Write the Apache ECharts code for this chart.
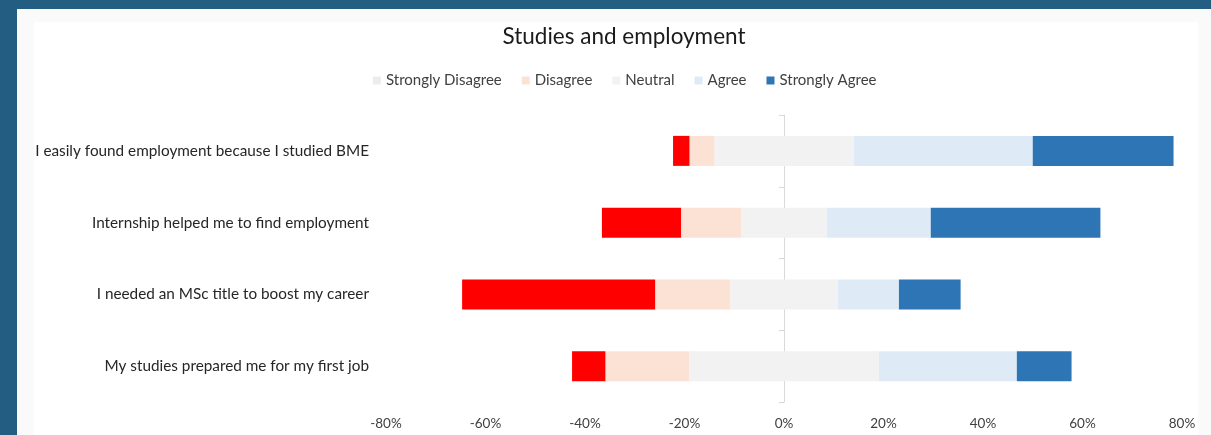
<!DOCTYPE html>
<html>
<head>
<meta charset="utf-8">
<script src="https://cdn.jsdelivr.net/npm/echarts@6/dist/echarts.min.js"></script>
<style>
html,body{margin:0;padding:0;width:1211px;height:435px;overflow:hidden;background:#245d82;}
#p1{position:absolute;left:17px;top:9px;width:1194px;height:426px;background:#fafafa;}
#p2{position:absolute;left:34px;top:22px;width:1164px;height:413px;background:#ffffff;}
#chart{position:absolute;left:0;top:0;width:1211px;height:435px;}
</style>
</head>
<body>
<div id="p1"></div><div id="p2"></div>
<div id="chart"></div>
<script>
const categories = [
  "I easily found employment because I studied BME",
  "Internship helped me to find employment",
  "I needed an MSc title to boost my career",
  "My studies prepared me for my first job"
];
const stronglyDisagree = [3.3, 15.9, 38.8, 6.7];
const disagree = [5.0, 12.1, 15.1, 16.8];
const neutral = [28.0, 17.2, 21.6, 38.2];
const agree = [36.0, 20.9, 12.3, 27.7];
const stronglyAgree = [28.3, 34.1, 12.4, 11.0];
const xTicks = [-80, -60, -40, -20, 0, 20, 40, 60, 80];

const colors = {sd:'#ff0000', d:'#fbe2d5', n:'#f2f2f2', a:'#deebf7', sa:'#2e75b6'};
const font = 'Lato, "Open Sans", sans-serif';

function bar(name, data, color, extra) {
  return Object.assign({
    name: name, type: 'bar', stack: 'total', data: data,
    barWidth: 30, itemStyle: {color: color}, emphasis: {disabled: true}
  }, extra || {});
}

const chart = echarts.init(document.getElementById('chart'));
chart.setOption({
  backgroundColor: 'transparent',
  animation: false,
  title: {
    text: 'Studies and employment', left: 619, top: 20, textAlign: 'center',
    textStyle: {fontFamily: font, fontSize: 22.5, fontWeight: 'normal', color: '#1a1a1a'}
  },
  legend: {
    top: 68, left: 368, icon: 'rect', itemWidth: 8, itemHeight: 8, itemGap: 20,
    textStyle: {fontFamily: font, fontSize: 15, color: '#404040'},
    data: [
      {name: 'Strongly Disagree', itemStyle: {color: '#ececec'}},
      {name: 'Disagree'}, {name: 'Neutral'}, {name: 'Agree'}, {name: 'Strongly Agree'}
    ]
  },
  grid: {left: 386, right: 29, top: 115, bottom: 33},
  xAxis: {
    type: 'value', min: xTicks[0], max: xTicks[xTicks.length - 1], interval: 20,
    axisLine: {show: false}, axisTick: {show: false}, splitLine: {show: false},
    axisLabel: {formatter: v => v + '%', fontFamily: font, fontSize: 13.5, color: '#404040', margin: 15}
  },
  yAxis: [{
    type: 'category', data: categories, inverse: true,
    axisLine: {show: false, onZero: false}, axisTick: {show: false},
    axisLabel: {fontFamily: font, fontSize: 15.3, color: '#262626', margin: 17}
  }, {
    type: 'category', data: categories, inverse: true, position: 'left',
    axisLine: {show: true, onZero: true, lineStyle: {color: '#d9d9d9'}},
    axisTick: {show: true, length: 5, lineStyle: {color: '#d9d9d9'}},
    axisLabel: {show: false}
  }],
  series: [
    bar('Neutral', neutral.map(v => -v / 2), colors.n),
    bar('Disagree', disagree.map(v => -v), colors.d),
    bar('Strongly Disagree', stronglyDisagree.map(v => -v), colors.sd),
    bar('Neutral', neutral.map(v => v / 2), colors.n),
    bar('Agree', agree, colors.a),
    bar('Strongly Agree', stronglyAgree, colors.sa)
  ]
});
</script>
</body>
</html>
